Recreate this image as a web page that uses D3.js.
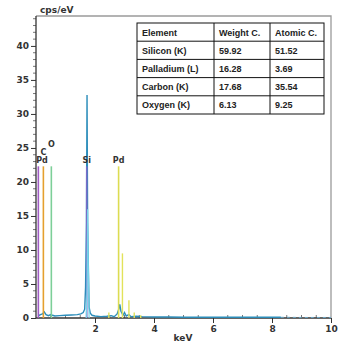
<!DOCTYPE html>
<html>
<head>
<meta charset="utf-8">
<script src="https://cdn.jsdelivr.net/npm/d3@7"></script>
<style>
  body { margin: 0; background: #fff; }
  svg { display: block; }
  .tick text { font-family: "DejaVu Sans", Verdana, sans-serif; font-weight: bold; font-size: 9px; fill: #333; }
</style>
</head>
<body>
<div id="chart"></div>
<script>
// spectrum (keV, cps/eV)
var specKev = [0.08, 0.15, 0.22, 0.28, 0.34, 0.42, 0.5, 0.56, 0.64, 0.8, 1.0, 1.2, 1.4, 1.52, 1.6, 1.65, 1.68, 1.71, 1.73, 1.75, 1.77, 1.8, 1.84, 1.9, 2.0, 2.2, 2.4, 2.55, 2.65, 2.75, 2.8, 2.84, 2.88, 2.95, 3.0, 3.06, 3.15, 3.22, 3.4, 3.6, 4.0, 4.5, 5.0, 5.5, 6.0, 6.5, 7.0, 7.5, 8.0, 8.3];
var specCps = [0.3, 0.5, 0.6, 0.9, 0.5, 0.35, 0.5, 0.4, 0.3, 0.35, 0.4, 0.45, 0.5, 0.6, 0.8, 1.3, 4.5, 14, 32.8, 14, 8.6, 1.6, 0.7, 0.4, 0.3, 0.2, 0.25, 0.35, 0.2, 0.6, 1.2, 2.0, 1.0, 0.4, 0.8, 0.3, 0.5, 0.2, 0.25, 0.2, 0.15, 0.15, 0.12, 0.12, 0.12, 0.12, 0.1, 0.1, 0.1, 0.1];
var tailKev = [8.3, 8.6, 9.0, 9.4, 9.8, 10];
var tailCps = [0.1, 0.1, 0.08, 0.08, 0.08, 0.08];

// Si fitted peak (light cyan)
var siFitKev = [1.7, 1.73, 1.75, 1.77, 1.8];
var siFitCps = [0, 4.5, 16, 8.6, 0];

// Pd fitted lines (yellow spikes)
var pdFitKev = [2.47, 2.93, 3.15, 3.33, 3.55];
var pdFitCps = [0.8, 9.5, 2.6, 0.8, 0.4];

// element marker lines
var markerName = ["Pd", "C", "O", "Si", "Pd"];
var markerKev = [0.08, 0.25, 0.52, 1.72, 2.8];
var markerHeight = [22.3, 22.3, 22.3, 22.3, 22.3];
var markerColor = ["#a05cc4", "#e5a02e", "#7dcf98", "#7a6cc8", "#dcdc52"];

// quantification table
var tableHead = ["Element", "Weight C.", "Atomic C."];
var tableElement = ["Silicon (K)", "Palladium (L)", "Carbon (K)", "Oxygen (K)"];
var tableWeight = ["59.92", "16.28", "17.68", "6.13"];
var tableAtomic = ["51.52", "3.69", "35.54", "9.25"];

var yTicks = [0, 5, 10, 15, 20, 25, 30, 35, 40];
var xTicks = [2, 4, 6, 8, 10];

var W = 338, H = 343;
var m = {left: 36, right: 6, top: 16, bottom: 25};

var svg = d3.select("#chart").append("svg").attr("width", W).attr("height", H);

var x = d3.scaleLinear().domain([0, 10]).range([m.left, W - m.right - 1]);
var y = d3.scaleLinear().domain([0, 44.4]).range([H - m.bottom, m.top]);

// frame: top & right grey
svg.append("path")
	.attr("d", "M" + m.left + "," + m.top + "H" + (W - m.right - 1) + "V" + (H - m.bottom))
	.attr("fill", "none").attr("stroke", "#9a9a9a").attr("stroke-width", 1.3);

// minor ticks
var yMinor = d3.range(0, 45, 1).filter(function(d) { return d % 5 != 0; });
svg.append("g").selectAll("line").data(yMinor).enter().append("line")
	.attr("x1", m.left - 3).attr("x2", m.left)
	.attr("y1", function(d) { return y(d); }).attr("y2", function(d) { return y(d); })
	.attr("stroke", "#555").attr("stroke-width", 0.8);
var xMinor = d3.range(0.5, 10, 0.5).filter(function(d) { return d % 2 != 0; });
svg.append("g").selectAll("line").data(xMinor).enter().append("line")
	.attr("x1", function(d) { return x(d); }).attr("x2", function(d) { return x(d); })
	.attr("y1", y(0) - 3).attr("y2", y(0))
	.attr("stroke", "#555").attr("stroke-width", 0.8);

// axes
var yAxis = svg.append("g").attr("transform", "translate(" + m.left + ",0)")
	.call(d3.axisLeft(y).tickValues(yTicks).tickSize(5).tickPadding(2));
var xAxis = svg.append("g").attr("transform", "translate(0," + y(0) + ")")
	.call(d3.axisBottom(x).tickValues(xTicks).tickSize(5).tickPadding(3));
yAxis.select(".domain").attr("d", "M0," + y(0) + "V" + m.top).attr("stroke", "#333").attr("stroke-width", 1.3);
xAxis.select(".domain").attr("d", "M" + m.left + ",0H" + (W - m.right - 1)).attr("stroke", "#333").attr("stroke-width", 1.3);
svg.selectAll(".tick line").attr("stroke", "#333");

svg.append("text").attr("x", 40).attr("y", 13)
	.style("font-family", "DejaVu Sans, sans-serif").style("font-weight", "bold").style("font-size", "9px").style("fill", "#333")
	.text("cps/eV");
svg.append("text").attr("x", 183).attr("y", 341).attr("text-anchor", "middle")
	.style("font-family", "DejaVu Sans, sans-serif").style("font-weight", "bold").style("font-size", "9px").style("fill", "#333")
	.text("keV");

var line = d3.line().x(function(d) { return x(d[0]); }).y(function(d) { return y(d[1]); });

// spectrum
svg.append("path").datum(d3.zip(specKev, specCps))
	.attr("d", line).attr("fill", "none").attr("stroke", "#2b8dba").attr("stroke-width", 1.4);
svg.append("path").datum(d3.zip(tailKev, tailCps))
	.attr("d", line).attr("fill", "none").attr("stroke", "#6aa8c8").attr("stroke-width", 1)
	.attr("stroke-dasharray", "3,3");

// marker lines
var markers = markerName.map(function(n, i) {
	return {name: n, kev: markerKev[i], h: markerHeight[i], color: markerColor[i]};
});
svg.append("g").selectAll("line").data(markers).enter().append("line")
	.attr("x1", function(d) { return x(d.kev); }).attr("x2", function(d) { return x(d.kev); })
	.attr("y1", y(0)).attr("y2", function(d) { return y(d.h); })
	.attr("stroke", function(d) { return d.color; }).attr("stroke-width", 1.6);

svg.append("path").datum(d3.zip(siFitKev, siFitCps))
	.attr("d", line).attr("fill", "none").attr("stroke", "#78d4ea").attr("stroke-width", 1.2);

// Pd fit spikes
var pdFit = pdFitKev.map(function(k, i) { return {kev: k, cps: pdFitCps[i]}; });
svg.append("g").selectAll("line").data(pdFit).enter().append("line")
	.attr("x1", function(d) { return x(d.kev); }).attr("x2", function(d) { return x(d.kev); })
	.attr("y1", y(0)).attr("y2", function(d) { return y(d.cps); })
	.attr("stroke", "#e2e25a").attr("stroke-width", 1.4);

// marker labels
svg.append("g").selectAll("text").data(markers).enter().append("text")
	.attr("x", function(d) { return Math.max(x(d.kev), m.left + 6); })
	.attr("y", function(d, i) {
		var r = d.kev < 1 ? i : 0;
		return y(d.h) - 3 - r * 8;
	})
	.attr("text-anchor", "middle")
	.style("font-family", "DejaVu Sans, sans-serif").style("font-weight", "bold").style("font-size", "8px").style("fill", "#333")
	.text(function(d) { return d.name; });

// table
var tx = 137, ty = 23, rowH = 18.2;
var colX = [137, 214, 270, 324];
var rows = [tableHead].concat(tableElement.map(function(e, i) { return [e, tableWeight[i], tableAtomic[i]]; }));
var tbl = svg.append("g");
tbl.append("rect").attr("x", tx).attr("y", ty).attr("width", colX[3] - colX[0]).attr("height", rowH * rows.length)
	.attr("fill", "#fff").attr("stroke", "#111").attr("stroke-width", 1);
tbl.selectAll(".hl").data(d3.range(1, rows.length)).enter().append("line")
	.attr("x1", colX[0]).attr("x2", colX[3])
	.attr("y1", function(d) { return ty + d * rowH; }).attr("y2", function(d) { return ty + d * rowH; })
	.attr("stroke", "#111").attr("stroke-width", 1);
tbl.selectAll(".vl").data([1, 2]).enter().append("line")
	.attr("x1", function(d) { return colX[d]; }).attr("x2", function(d) { return colX[d]; })
	.attr("y1", ty).attr("y2", ty + rowH * rows.length)
	.attr("stroke", "#111").attr("stroke-width", 1);
rows.forEach(function(r, i) {
	r.forEach(function(c, j) {
		tbl.append("text").attr("x", colX[j] + 5).attr("y", ty + i * rowH + 12.5)
			.style("font-family", "Liberation Sans, Arial, sans-serif").style("font-weight", "bold")
			.style("font-size", "9px").style("fill", "#222")
			.text(c);
	});
});
</script>
</body>
</html>
